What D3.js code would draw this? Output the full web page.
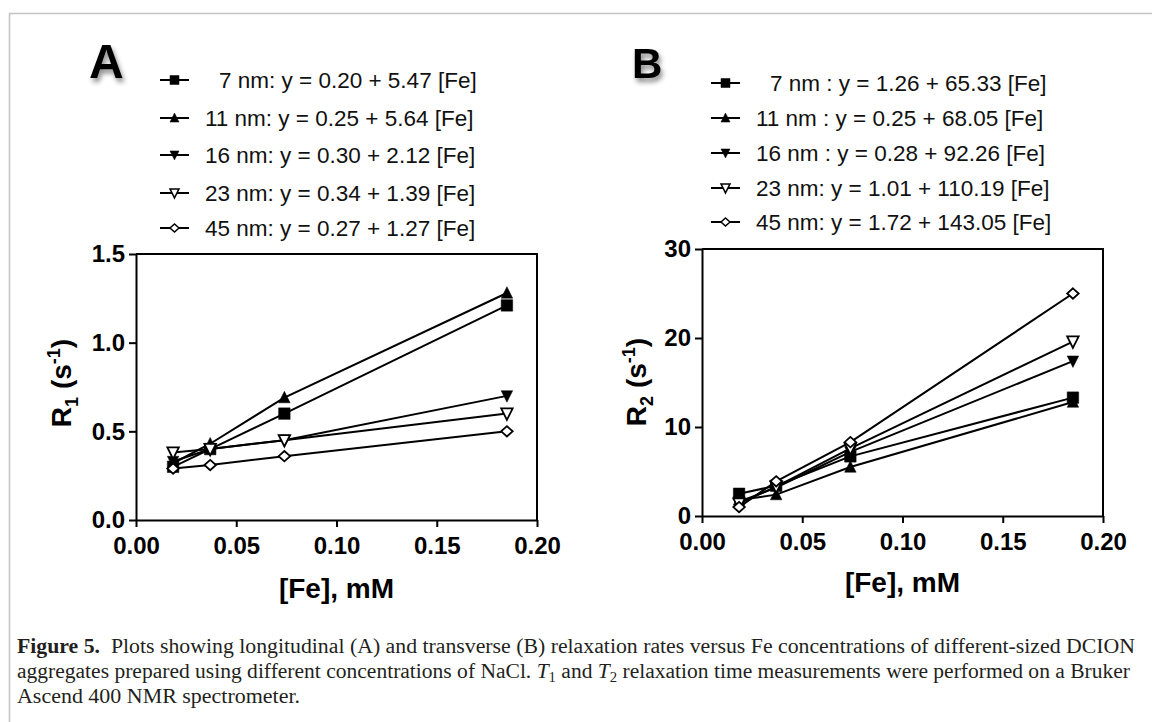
<!DOCTYPE html>
<html>
<head>
<meta charset="utf-8">
<script src="https://cdn.jsdelivr.net/npm/d3@7"></script>
<style>
  body { margin: 0; background: #fff; }
  svg { display: block; }
</style>
</head>
<body>
<svg id="chart" width="1152" height="722"></svg>
<script>
// Fe concentrations (mM) shared by both panels
const feConc = [0.0185, 0.037, 0.074, 0.185];
const sizeNames = ['7 nm', '11 nm', '16 nm', '23 nm', '45 nm'];

// R1 (s^-1), one array per aggregate size
const r1Series = [
  [0.30, 0.40, 0.60, 1.21],
  [0.32, 0.43, 0.69, 1.28],
  [0.33, 0.40, 0.45, 0.70],
  [0.38, 0.40, 0.45, 0.60],
  [0.29, 0.31, 0.36, 0.50]
];
// R2 (s^-1)
const r2Series = [
  [2.5, 3.4, 6.7, 13.3],
  [1.8, 2.4, 5.5, 12.8],
  [1.6, 3.2, 7.2, 17.4],
  [1.4, 3.3, 7.6, 19.6],
  [1.0, 3.9, 8.3, 25.0]
];

const r1Legend = [
  '7 nm: y = 0.20 + 5.47 [Fe]',
  '11 nm: y = 0.25 + 5.64 [Fe]',
  '16 nm: y = 0.30 + 2.12 [Fe]',
  '23 nm: y = 0.34 + 1.39 [Fe]',
  '45 nm: y = 0.27 + 1.27 [Fe]'
];
const r2Legend = [
  '7 nm : y = 1.26 + 65.33 [Fe]',
  '11 nm : y = 0.25 + 68.05 [Fe]',
  '16 nm : y = 0.28 + 92.26 [Fe]',
  '23 nm: y = 1.01 + 110.19 [Fe]',
  '45 nm: y = 1.72 + 143.05 [Fe]'
];

const xTicks = [0, 0.05, 0.10, 0.15, 0.20];
const r1Ticks = [0, 0.5, 1.0, 1.5];
const r2Ticks = [0, 10, 20, 30];

const markers = ['square', 'triUp', 'triDown', 'triDownOpen', 'diamondOpen'];

function markerPath(type, s) {
  const h = s / 2;
  switch (type) {
    case 'square': return `M${-h},${-h}H${h}V${h}H${-h}Z`;
    case 'triUp': return `M0,${-h * 1.1}L${h},${h * 0.9}L${-h},${h * 0.9}Z`;
    case 'triDown':
    case 'triDownOpen': return `M0,${h * 1.1}L${h},${-h * 0.9}L${-h},${-h * 0.9}Z`;
    default: return `M0,${-h * 0.9}L${h},0L0,${h * 0.9}L${-h},0Z`;
  }
}
const isOpen = t => t === 'triDownOpen' || t === 'diamondOpen';

const svg = d3.select('#chart');
const font = "'Liberation Sans', Arial, sans-serif";

// figure frame
svg.append('path')
  .attr('d', 'M9.5,722V13.5H1152')
  .attr('fill', 'none')
  .attr('stroke', '#c4c4c4')
  .attr('stroke-width', 1.5);

const defs = svg.append('defs');
defs.append('filter').attr('id', 'shadow')
  .attr('x', '-30%').attr('y', '-30%').attr('width', '170%').attr('height', '170%')
  .append('feDropShadow')
  .attr('dx', 2).attr('dy', 4).attr('stdDeviation', 2.5)
  .attr('flood-color', '#000').attr('flood-opacity', 0.45);

function drawPanel(cfg) {
  const g = svg.append('g');
  const x = d3.scaleLinear().domain([0, 0.2]).range([cfg.left, cfg.right]);
  const y = d3.scaleLinear().domain(cfg.yDomain).range([cfg.bottom, cfg.top]);

  // panel letter
  g.append('text')
    .attr('x', cfg.letterX).attr('y', cfg.letterY)
    .attr('font-family', font).attr('font-weight', 900)
    .attr('font-size', cfg.letterSize)
    .attr('filter', 'url(#shadow)')
    .text(cfg.letter);

  // frame (top + right)
  g.append('path')
    .attr('d', `M${cfg.left},${cfg.top}H${cfg.right}V${cfg.bottom}`)
    .attr('fill', 'none').attr('stroke', '#000').attr('stroke-width', 2);

  const xAxis = g.append('g')
    .attr('transform', `translate(0,${cfg.bottom})`)
    .call(d3.axisBottom(x).tickValues(xTicks).tickFormat(d3.format('.2f'))
      .tickSize(7).tickSizeOuter(0).tickPadding(10));
  const yAxis = g.append('g')
    .attr('transform', `translate(${cfg.left},0)`)
    .call(d3.axisLeft(y).tickValues(cfg.yTicks).tickFormat(cfg.yFormat)
      .tickSize(7).tickSizeOuter(0).tickPadding(4));
  [xAxis, yAxis].forEach(a => {
    a.selectAll('path, line').attr('stroke', '#000').attr('stroke-width', 2);
    a.selectAll('text').attr('font-family', font).attr('font-weight', 'bold')
      .attr('font-size', 24).attr('fill', '#000');
  });

  // axis titles
  g.append('text')
    .attr('x', (cfg.left + cfg.right) / 2).attr('y', cfg.xTitleY)
    .attr('text-anchor', 'middle')
    .attr('font-family', font).attr('font-weight', 'bold').attr('font-size', 28)
    .text('[Fe], mM');

  const yt = g.append('text')
    .attr('transform', `translate(${cfg.yTitleX},${cfg.yTitleY}) rotate(-90)`)
    .attr('text-anchor', 'middle')
    .attr('font-family', font).attr('font-weight', 'bold').attr('font-size', 28);
  yt.append('tspan').text('R');
  yt.append('tspan').attr('font-size', 18).attr('dy', 7).text(cfg.sub);
  yt.append('tspan').attr('dy', -7).text(' (s');
  yt.append('tspan').attr('font-size', 18).attr('dy', -11).text('-1');
  yt.append('tspan').attr('dy', 11).text(')');

  // series lines
  const line = d3.line().x((d, i) => x(feConc[i])).y(d => y(d));
  g.append('g').selectAll('path')
    .data(cfg.series)
    .join('path')
    .attr('d', d => line(d))
    .attr('fill', 'none').attr('stroke', '#000').attr('stroke-width', 2);

  // markers
  cfg.series.forEach((vals, si) => {
    const t = markers[si];
    g.append('g').selectAll('path')
      .data(vals)
      .join('path')
      .attr('transform', (d, i) => `translate(${x(feConc[i])},${y(d)})`)
      .attr('d', markerPath(t, 11.5))
      .attr('fill', isOpen(t) ? '#fff' : '#000')
      .attr('stroke', '#000').attr('stroke-width', isOpen(t) ? 1.8 : 0.5);
  });

  // legend
  const lg = g.append('g');
  const rows = lg.selectAll('g')
    .data(cfg.legend)
    .join('g')
    .attr('transform', (d, i) => `translate(0,${cfg.legendY[i]})`);
  rows.append('line')
    .attr('x1', cfg.legendX).attr('x2', cfg.legendX + 29)
    .attr('stroke', '#000').attr('stroke-width', 2);
  rows.append('path')
    .attr('transform', `translate(${cfg.legendX + 14.5},0)`)
    .attr('d', (d, i) => markerPath(markers[i], 9))
    .attr('fill', (d, i) => isOpen(markers[i]) ? '#fff' : '#000')
    .attr('stroke', '#000').attr('stroke-width', (d, i) => isOpen(markers[i]) ? 1.5 : 0.5);
  rows.append('text')
    .attr('x', (d, i) => cfg.legendX + 45 + (i === 0 ? 14 : 0))
    .attr('dy', '0.35em')
    .attr('font-family', font).attr('font-size', 22.5).attr('fill', '#111')
    .text(d => d);
}

drawPanel({
  letter: 'A', letterX: 89, letterY: 78, letterSize: 48,
  left: 136, right: 537, top: 254, bottom: 520,
  yDomain: [0, 1.5], yTicks: r1Ticks, yFormat: d3.format('.1f'),
  series: r1Series, sub: '1', legend: r1Legend,
  legendX: 160, legendY: [80, 118, 155, 193, 228],
  xTitleY: 598, yTitleX: 71, yTitleY: 383
});

drawPanel({
  letter: 'B', letterX: 632, letterY: 78, letterSize: 42,
  left: 702, right: 1103, top: 249, bottom: 516,
  yDomain: [0, 30], yTicks: r2Ticks, yFormat: d3.format('d'),
  series: r2Series, sub: '2', legend: r2Legend,
  legendX: 711, legendY: [83, 118, 153, 188, 222],
  xTitleY: 592, yTitleX: 646, yTitleY: 382
});

// caption
const cap = svg.append('g')
  .attr('font-family', "'Liberation Serif', 'Times New Roman', serif")
  .attr('font-size', 20.5).attr('fill', '#231f20');
const l1 = cap.append('text').attr('x', 17).attr('y', 653)
  .attr('textLength', 1118).attr('lengthAdjust', 'spacingAndGlyphs');
l1.append('tspan').attr('font-weight', 'bold').text('Figure 5.');
l1.append('tspan').text('\u2002Plots showing longitudinal (A) and transverse (B) relaxation rates versus Fe concentrations of different-sized DCION');
const l2 = cap.append('text').attr('x', 17).attr('y', 678)
  .attr('textLength', 1113).attr('lengthAdjust', 'spacingAndGlyphs');
l2.append('tspan').text('aggregates prepared using different concentrations of NaCl. ');
l2.append('tspan').attr('font-style', 'italic').text('T');
l2.append('tspan').attr('font-size', 14).attr('dy', 4).text('1');
l2.append('tspan').attr('dy', -4).text(' and ');
l2.append('tspan').attr('font-style', 'italic').text('T');
l2.append('tspan').attr('font-size', 14).attr('dy', 4).text('2');
l2.append('tspan').attr('dy', -4).text(' relaxation time measurements were performed on a Bruker');
cap.append('text').attr('x', 17).attr('y', 703)
  .attr('textLength', 283).attr('lengthAdjust', 'spacingAndGlyphs')
  .text('Ascend 400 NMR spectrometer.');
</script>
</body>
</html>
